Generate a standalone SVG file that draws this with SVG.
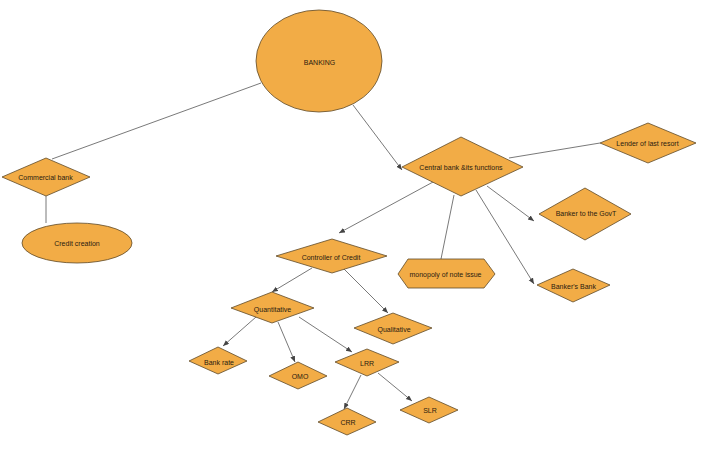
<svg xmlns="http://www.w3.org/2000/svg" width="702" height="451" viewBox="0 0 702 451">
<style>
.n{fill:#F2AC46;stroke:#5e4a2a;stroke-width:0.8}
.t{font-family:"Liberation Sans",Arial,sans-serif;font-size:7px;fill:#2a2010;text-anchor:middle;dominant-baseline:central}
.c{stroke:#6a6a6a;stroke-width:0.9;fill:none}
.a{marker-end:url(#arr)}
</style>
<defs>
<marker id="arr" markerWidth="7" markerHeight="6" refX="6" refY="2.5" orient="auto" markerUnits="userSpaceOnUse">
<path d="M0,0 L6,2.5 L0,5 z" fill="#444"/>
</marker>
</defs>
<rect width="702" height="451" fill="#fff"/>
<g id="connectors">
<line class="c" x1="261" y1="83" x2="52" y2="159"/>
<line class="c" x1="46" y1="196" x2="46" y2="223"/>
<line class="c a" x1="353" y1="105" x2="402" y2="170"/>
<line class="c" x1="509" y1="158" x2="600" y2="143"/>
<line class="c a" x1="487" y1="186" x2="534" y2="221"/>
<line class="c a" x1="433" y1="182" x2="339" y2="233"/>
<line class="c" x1="454" y1="195" x2="441" y2="259"/>
<line class="c a" x1="476" y1="190" x2="534" y2="284"/>
<line class="c a" x1="312" y1="268" x2="272" y2="292"/>
<line class="c a" x1="344" y1="269" x2="388" y2="313"/>
<line class="c a" x1="256" y1="317" x2="223" y2="346"/>
<line class="c a" x1="278" y1="322" x2="295" y2="362"/>
<line class="c a" x1="299" y1="317" x2="352" y2="352"/>
<line class="c a" x1="361" y1="375" x2="344" y2="409"/>
<line class="c a" x1="378" y1="373" x2="412" y2="401"/>
</g>
<g id="banking"><ellipse class="n" cx="319" cy="61" rx="63" ry="51"/><text class="t" x="319.5" y="62">BANKING</text></g>
<g id="commercial"><polygon class="n" points="2,177 46,158 90,177 46,196"/><text class="t" x="45.5" y="177">Commercial bank</text></g>
<g id="credit"><ellipse class="n" cx="77" cy="243" rx="55" ry="20"/><text class="t" x="77" y="243">Credit creation</text></g>
<g id="central"><polygon class="n" points="402,167 461,137 523,167 461,196"/><text class="t" x="461" y="167">Central bank &amp;its functions</text></g>
<g id="lender"><polygon class="n" points="600,143 648,123 696,143 648,163"/><text class="t" x="647.5" y="143">Lender of last resort</text></g>
<g id="govt"><polygon class="n" points="539,214 585,188 631,214 585,240"/><text class="t" x="586" y="213">Banker to the GovT</text></g>
<g id="controller"><polygon class="n" points="276,256 332,239 387,256 332,273"/><text class="t" x="331" y="257">Controller of Credit</text></g>
<g id="monopoly"><polygon class="n" points="398,274 408,259 484,259 495,274 484,288 408,288"/><text class="t" x="445.5" y="274">monopoly of note issue</text></g>
<g id="bankersbank"><polygon class="n" points="537,285 573,269 610,285 573,302"/><text class="t" x="573.5" y="286">Banker's Bank</text></g>
<g id="quantitative"><polygon class="n" points="231,308 272,292 314,308 272,323"/><text class="t" x="272.5" y="309">Quantitative</text></g>
<g id="qualitative"><polygon class="n" points="354,328 393,313 432,328 393,344"/><text class="t" x="394" y="329">Qualitative</text></g>
<g id="bankrate"><polygon class="n" points="189,361 218,347 247,361 218,374"/><text class="t" x="219" y="362">Bank rate</text></g>
<g id="omo"><polygon class="n" points="269,376 298,362 327,376 298,389"/><text class="t" x="300" y="376">OMO</text></g>
<g id="lrr"><polygon class="n" points="335,362 367,349 399,362 367,376"/><text class="t" x="367" y="363">LRR</text></g>
<g id="crr"><polygon class="n" points="318,422 347,408 376,422 347,435"/><text class="t" x="348" y="422">CRR</text></g>
<g id="slr"><polygon class="n" points="400,410 429,397 458,410 429,423"/><text class="t" x="430" y="410">SLR</text></g>
</svg>
